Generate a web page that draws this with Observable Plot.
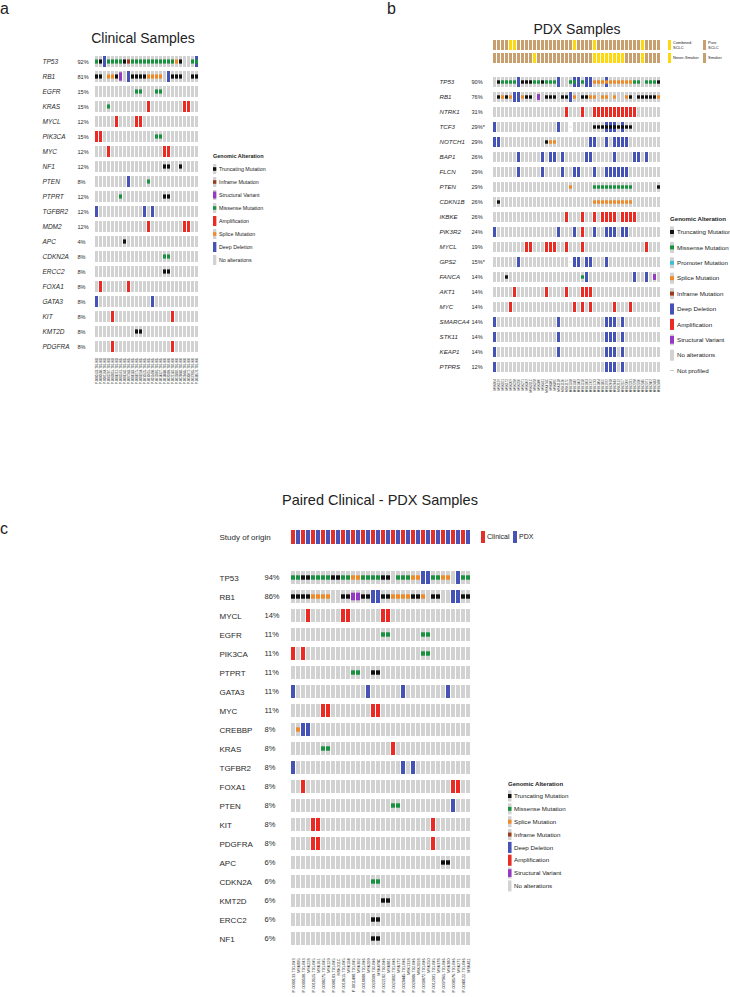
<!DOCTYPE html>
<html><head><meta charset="utf-8">
<script src="https://cdn.jsdelivr.net/npm/d3@7"></script>
<script src="https://cdn.jsdelivr.net/npm/@observablehq/plot@0.6"></script>
<style>
body{margin:0;background:#fff;}
#page{position:relative;width:730px;height:997px;overflow:hidden;background:#fff;color:#222;}
</style></head><body><div id="page"></div>
<script>
// ---------------- DATA ----------------
// codes: . none, T truncating, M missense, S splice, I inframe, P promoter,
// A amplification, D deep deletion, V structural variant, - not profiled,
// m = deep deletion + missense, t = deep deletion + truncating, s = deep deletion + splice
const genesA = ["TP53","RB1","EGFR","KRAS","MYCL","PIK3CA","MYC","NF1","PTEN","PTPRT","TGFBR2","MDM2","APC","CDKN2A","ERCC2","FOXA1","GATA3","KIT","KMT2D","PDGFRA"];
const pctA = ["92%","81%","15%","15%","12%","15%","12%","12%","8%","12%","12%","12%","4%","8%","8%","8%","8%","8%","8%","8%"];
const samplesA = ["P-0000133-T01-IM3","P-0000508-T01-IM3","P-0001164-T01-IM3","P-0002207-T01-IM3","P-0003015-T01-IM3","P-0004212-T01-IM3","P-0005561-T01-IM5","P-0006142-T01-IM5","P-0007343-T01-IM5","P-0008183-T01-IM5","P-0008275-T01-IM5","P-0009234-T01-IM5","P-0010525-T01-IM5","P-0010615-T01-IM5","P-0011498-T01-IM5","P-0012001-T01-IM5","P-0014327-T01-IM5","P-0018888-T01-IM6","P-0020309-T02-IM6","P-0022182-T02-IM6","P-0023802-T01-IM6","P-0029086-T02-IM6","P-0029445-T01-IM6","P-0030872-T01-IM6","P-0037065-T01-IM6","P-0038576-T01-IM6"];
const rowsA = [
"MTDMMMMTIMMMMMMMMMMMST..Mm",
"TT.SSTV.DTTTTSSSS.DTTT..TT",
"..........MM...MM.........",
"...M.........A........AA..",
".....A....AA..............",
"AA.............MM.........",
"...A.............AA.......",
".................TT..T....",
"........D....M............",
"......M..........TT.......",
"D...........D.D...........",
".............A........AA..",
".......T..................",
".................MM.......",
".................TT.......",
".A......A.................",
"D.............D...........",
"....A..............A......",
"..........TT..............",
"....A..............A......"];

const genesB = ["TP53","RB1","NTRK1","TCF3","NOTCH1","BAP1","FLCN","PTEN","CDKN1B","IKBKE","PIK3R2","MYCL","GPS2","FANCA","AKT1","MYC","SMARCA4","STK11","KEAP1","PTPRS"];
const pctB = ["90%","76%","31%","29%*","29%","26%","29%","29%","26%","26%","24%","19%","15%*","14%","14%","14%","14%","14%","14%","12%"];
const samplesB = ["MSK104","MSK129","MSK161","MSK172","MSK209","MSK228","MSK250","MSK271","MSK302","MSK311C","MSK378","MSK380","MSK411","MSK474C","MSK881","MSK895","MSK1118","MSK1120","MSK1175","MSK1318","MSK1342","MSK1403","MSK1518","MSK1603","MSK1702","MSK1733","MSK1804","MSK1855","MSK1922","MSK2018","MSK2043","MSK2112","MSK2157","MSK2206","MSK2231","MSK2298","MSK2310","MSK2345","MSK2371","MSK2402","MSK2433","MSK2490"];
const rowsB = [
".TMMMMDTTTMMTMMMD..MmDMDDSSSsSSSSSSMM.MMMT",
".TSTSDDSTT.V.TTT.TTDS.TTSS.SS.S..ST.TTTTTS",
"..................A...A..AAAAAAAAAAA......",
"D...............D..-.....TTTtttTtTT.......",
"DD...........TSS........DD..D.DDDD........",
"......D.....D.DD.D.....DD.....D....DD.D...",
"......D.....D....D..DD...D..DDDDDD........",
"...................S.....MMMMMMMMMM......T",
".T.......................SSSSSSSSSS.......",
"..................A...A..A.AAAA.AAAA......",
"D...............D...D.A..D..DDD.DD........",
"........AA...AAA..A...A...............A...",
"......D............-DD.DD...D.............",
"...T..................MD...........D..D.V.",
".....A.......A....A...AAA.................",
"....A...............A.A.A.....A...A.......",
"D...............D...........DDD.D.........",
"D...............D...........DDD.D.........",
"D...............D...........DDD.D.........",
"D...........................DDD.D........."];
// clinical tracks: C combined / P pure SCLC ; N never-smoker / S smoker
const histologyB = "PPPPCCPPPPPPPPPPPPPPCPPPPCPPPPPPPPPPPCPPPP";
const smokingB   = "SSSSSSSSSSNSSSSSSSSSSSSSSNNNNNNNNSSSSNSSSS";

const genesC = ["TP53","RB1","MYCL","EGFR","PIK3CA","PTPRT","GATA3","MYC","CREBBP","KRAS","TGFBR2","FOXA1","PTEN","KIT","PDGFRA","APC","CDKN2A","KMT2D","ERCC2","NF1"];
const pctC = ["94%","86%","14%","11%","11%","11%","11%","11%","8%","8%","8%","8%","8%","8%","8%","6%","6%","6%","6%","6%"];
const samplesC = ["P-0000133-T01-IM3","MSK895","P-0000508-T01-IM3","MSK228","P-0010525-T01-IM5","MSK161","P-0008275-T01-IM5","MSK129","P-0008183-T01-IM5","MSK311C","P-0010615-T01-IM5","MSK104","P-0011498-T01-IM5","MSK302","P-0018888-T01-IM6","MSK209","P-0020309-T02-IM6","MSK474C","P-0022182-T02-IM6","MSK881","P-0023802-T01-IM6","MSK172","P-0029445-T01-IM6","MSK1318","P-0029086-T02-IM6","MSK2018","P-0030872-T01-IM6","MSK250","P-0012001-T01-IM5","MSK378","P-0037065-T01-IM6","MSK380","P-0038576-T01-IM6","MSK271","P-0040122-T01-IM6","MSK411"];
const rowsC = [
"MMTTMMMMTTMMSSMMMMTT.MMMSSDDMMSS.DMM",
"TTTTSSSS..TTVVTTDDTTSSSSTTS.TT..DDTT",
"...A......AA......AA................",
"..................MM......MM........",
"A.A.......................MM........",
"............MM..TT..................",
"D..............D......D........D....",
"......AA........AA..................",
".SDD................................",
"......MM............A...............",
"D.....................D.D...........",
"..A.............................AA..",
"....................MM..........D...",
"....AA......................A.......",
"....AA......................A.......",
"..............................TT....",
"................MM..................",
"..................TT................",
"................TT..................",
"................TT.................."];
const originC = "CPCPCPCPCPCPCPCPCPCPCPCPCPCPCPCPCPCP";

const legendA = ["Truncating Mutation","Inframe Mutation","Structural Variant","Missense Mutation","Amplification","Splice Mutation","Deep Deletion","No alterations"];
const legendCodesA = "TIVMASD.";
const legendB = ["Truncating Mutation","Missense Mutation","Promoter Mutation","Splice Mutation","Inframe Mutation","Deep Deletion","Amplification","Structural Variant","No alterations","Not profiled"];
const legendCodesB = "TMPSIDAV.-";
const legendC = ["Truncating Mutation","Missense Mutation","Splice Mutation","Inframe Mutation","Deep Deletion","Amplification","Structural Variant","No alterations"];
const legendCodesC = "TMSIDAV.";

// ---------------- STYLE ----------------
const FONT = '"Liberation Sans", Arial, Helvetica, sans-serif';
const COL = {T:"#111111", M:"#18923f", S:"#f08a26", I:"#9c3a1c", P:"#3cc0d8", A:"#ec2a24", D:"#4552b6", V:"#9439c4"};
const GRAY = "#d2d2d2";
const YELLOW = "#fdd80e", TAN = "#c8a070";
const MUT_FRAC = 0.36;

function decode(ch){
  const combo = {m:["D","M"], t:["D","T"], s:["D","S"]};
  if (combo[ch]) return {cna: combo[ch][0], mut: combo[ch][1]};
  if (ch === "A" || ch === "D") return {cna: ch};
  if (ch === "V") return {sv: true};
  if ("TMSIP".includes(ch)) return {mut: ch};
  if (ch === "-") return {np: true};
  return {};
}
function cellsOf(genes, samples, rows){
  const out = [];
  genes.forEach((g, gi) => samples.forEach((s, si) => out.push({gene: g, sample: s, ...decode(rows[gi][si])})));
  return out;
}

const page = document.getElementById("page");
function place(el, left, top){
  el.style.position = "absolute"; el.style.left = left + "px"; el.style.top = top + "px";
  page.appendChild(el);
}

function oncoprint(o){
  const data = cellsOf(o.genes, o.samples, o.rows);
  const stepY = (o.height - o.top - o.bottom) / o.genes.length;
  const bandH = stepY * (1 - o.yPad);
  const mutIn = bandH * (1 - MUT_FRAC) / 2;
  const svIn = bandH * (1 - o.svFrac) / 2;
  const enc = {x: "sample", y: "gene"};
  return Plot.plot({
    width: o.width, height: o.height,
    marginLeft: o.left, marginRight: o.right, marginTop: o.top, marginBottom: o.bottom,
    style: {fontFamily: FONT, background: "transparent", overflow: "visible", color: "#222"},
    x: {type: "band", domain: o.samples, paddingInner: o.xPad, paddingOuter: o.xPad / 2},
    y: {type: "band", domain: o.genes, paddingInner: o.yPad, paddingOuter: o.yPad / 2, axis: null},
    color: {type: "identity"},
    marks: [
      Plot.cell(data.filter(d => !d.np), {...enc, fill: GRAY, inset: 0}),
      Plot.cell(data.filter(d => d.cna), {...enc, fill: d => COL[d.cna], inset: 0}),
      Plot.cell(data.filter(d => d.sv), {...enc, fill: COL.V, insetTop: svIn, insetBottom: svIn, insetLeft: 0, insetRight: 0}),
      Plot.cell(data.filter(d => d.mut), {...enc, fill: d => COL[d.mut], insetTop: mutIn, insetBottom: mutIn, insetLeft: 0, insetRight: 0}),
      Plot.cell(data.filter(d => d.np), {...enc, fill: "#c4c4c4", insetTop: bandH/2 - 0.4, insetBottom: bandH/2 - 0.4, insetLeft: 0, insetRight: 0}),
      Plot.text(o.genes, {y: d => d, text: d => d, frameAnchor: "left", textAnchor: "start", dx: o.geneX - o.left, fontSize: o.geneSize, fontStyle: o.italic ? "italic" : "normal", fill: "#2a2a2a"}),
      Plot.text(o.genes, {y: d => d, text: (d, i) => o.pcts[i], frameAnchor: "left", textAnchor: "start", dx: o.pctX - o.left, fontSize: o.pctSize, fill: "#2a2a2a"}),
      Plot.axisX({anchor: "bottom", tickRotate: -90, tickSize: 0, tickPadding: 2, fontSize: o.tickFont, label: null})
    ]
  });
}

function trackPlot(o){
  const data = [];
  o.tracks.forEach((t, ti) => o.samples.forEach((s, si) => data.push({track: o.trackNames[ti], sample: s, fill: o.colors[t[si]]})));
  const marks = [Plot.cell(data, {x: "sample", y: "track", fill: "fill", inset: 0})];
  if (o.label) marks.push(Plot.text(o.trackNames, {y: d => d, text: d => d, frameAnchor: "left", textAnchor: "start", dx: o.labelX - o.left, fontSize: o.labelSize, fill: "#2a2a2a"}));
  return Plot.plot({
    width: o.width, height: o.height,
    marginLeft: o.left, marginRight: o.right, marginTop: o.top, marginBottom: o.bottom,
    style: {fontFamily: FONT, background: "transparent", overflow: "visible"},
    x: {type: "band", domain: o.samples, paddingInner: o.xPad, paddingOuter: o.xPad / 2, axis: null},
    y: {type: "band", domain: o.trackNames, paddingInner: o.yPad, paddingOuter: o.yPad / 2, axis: null},
    color: {type: "identity"},
    marks
  });
}

// ---------------- PANEL A ----------------
place(oncoprint({genes: genesA, pcts: pctA, samples: samplesA, rows: rowsA,
  width: 380, height: 390, left: 92, right: 180, top: 51.4, bottom: 34.4,
  xPad: 0.25, yPad: 0.3, svFrac: 0.75, geneX: 42, pctX: 77, geneSize: 6.5, pctSize: 5.6,
  italic: true, tickFont: 2.9}), 0, 0);

// ---------------- PANEL B ----------------
place(trackPlot({samples: samplesB, tracks: [histologyB, smokingB], trackNames: ["Histology", "Smoking"],
  colors: {C: YELLOW, P: TAN, N: YELLOW, S: TAN},
  width: 350, height: 66, left: 110, right: 67, top: 38.5, bottom: 1.5, xPad: 0.25, yPad: 0.23}), 380, 0);
place(oncoprint({genes: genesB, pcts: pctB, samples: samplesB, rows: rowsB,
  width: 350, height: 334, left: 110, right: 67, top: 6.4, bottom: 23.4,
  xPad: 0.25, yPad: 0.32, svFrac: 0.6, geneX: 59, pctX: 91, geneSize: 6.2, pctSize: 5.6,
  italic: true, tickFont: 3}), 380, 66);

// ---------------- PANEL C ----------------
place(trackPlot({samples: samplesC, tracks: [originC], trackNames: ["Study of origin"],
  colors: {C: "#e4302a", P: "#4852b8"}, label: true, labelX: 219, labelSize: 8,
  width: 730, height: 34, left: 284, right: 253, top: 7, bottom: 7, xPad: 0.25, yPad: 0.3}), 0, 520);
place(oncoprint({genes: genesC, pcts: pctC, samples: samplesC, rows: rowsC,
  width: 730, height: 443, left: 284, right: 253, top: 5.5, bottom: 41.1,
  xPad: 0.25, yPad: 0.32, svFrac: 0.6, geneX: 219, pctX: 264, geneSize: 8, pctSize: 7.5,
  italic: false, tickFont: 3.8}), 0, 554);

// ---------------- OVERLAY: titles + legends ----------------
const ov = d3.select(page).append("svg").attr("width", 730).attr("height", 997)
  .style("position", "absolute").style("left", "0px").style("top", "0px")
  .style("font-family", FONT).attr("fill", "#222");
function txt(x, y, s, size, opt = {}){
  const t = ov.append("text").attr("x", x).attr("y", y).attr("font-size", size).text(s);
  if (opt.anchor) t.attr("text-anchor", opt.anchor);
  if (opt.bold) t.attr("font-weight", "bold");
  if (opt.center) t.attr("dy", "0.35em");
  if (opt.fill) t.attr("fill", opt.fill);
  return t;
}
txt(0, 14, "a", 16);
txt(143, 43, "Clinical Samples", 14, {anchor: "middle"});
txt(387, 14, "b", 16);
txt(577, 33.5, "PDX Samples", 14, {anchor: "middle"});
txt(0, 534, "c", 16);
txt(380, 505, "Paired Clinical - PDX Samples", 14.5, {anchor: "middle"});

function swatch(x, yc, w, h, code){
  const info = decode(code);
  if (!info.np) ov.append("rect").attr("x", x).attr("y", yc - h/2).attr("width", w).attr("height", h).attr("fill", GRAY);
  let col = null, frac = 0;
  if (info.cna){ col = COL[info.cna]; frac = 1; }
  else if (info.sv){ col = COL.V; frac = 0.7; }
  else if (info.mut){ col = COL[info.mut]; frac = MUT_FRAC; }
  else if (info.np){ col = "#c4c4c4"; frac = 0.08; }
  if (col) ov.append("rect").attr("x", x).attr("y", yc - h*frac/2).attr("width", w).attr("height", h*frac).attr("fill", col);
}
function legend(o){
  txt(o.x, o.titleY, "Genomic Alteration", o.titleSize, {bold: true, center: true});
  o.labels.forEach((lab, i) => {
    const yc = o.y0 + o.step * i;
    swatch(o.x, yc, o.w, o.h, o.codes[i]);
    txt(o.textX, yc, lab, o.size, {center: true});
  });
}
legend({labels: legendA, codes: legendCodesA, x: 213, textX: 219, titleY: 156, y0: 169, step: 13, w: 3.3, h: 10, size: 5.3, titleSize: 5.5});
legend({labels: legendB, codes: legendCodesB, x: 670, textX: 677, titleY: 219, y0: 232, step: 15.4, w: 4, h: 11, size: 6.2, titleSize: 6.1});
legend({labels: legendC, codes: legendCodesC, x: 508, textX: 514, titleY: 784, y0: 796, step: 12.85, w: 3.5, h: 11, size: 6.2, titleSize: 6});

// panel b track legend
ov.append("rect").attr("x", 668).attr("y", 40).attr("width", 3).attr("height", 10).attr("fill", YELLOW);
ov.append("rect").attr("x", 703).attr("y", 40).attr("width", 3).attr("height", 10).attr("fill", TAN);
ov.append("rect").attr("x", 668).attr("y", 53).attr("width", 3).attr("height", 10).attr("fill", YELLOW);
ov.append("rect").attr("x", 703).attr("y", 53).attr("width", 3).attr("height", 10).attr("fill", TAN);
txt(673, 43, "Combined", 4, {center: true}); txt(673, 48, "SCLC", 4, {center: true});
txt(708, 43, "Pure", 4, {center: true}); txt(708, 48, "SCLC", 4, {center: true});
txt(673, 58, "Never-Smoker", 4, {center: true}); txt(708, 58, "Smoker", 4, {center: true});

// panel c origin legend
ov.append("rect").attr("x", 481).attr("y", 531).attr("width", 4).attr("height", 12).attr("fill", "#e4302a");
txt(487, 537, "Clinical", 7, {center: true});
ov.append("rect").attr("x", 513).attr("y", 531).attr("width", 4).attr("height", 12).attr("fill", "#4852b8");
txt(519, 537, "PDX", 7, {center: true});
</script></body></html>
